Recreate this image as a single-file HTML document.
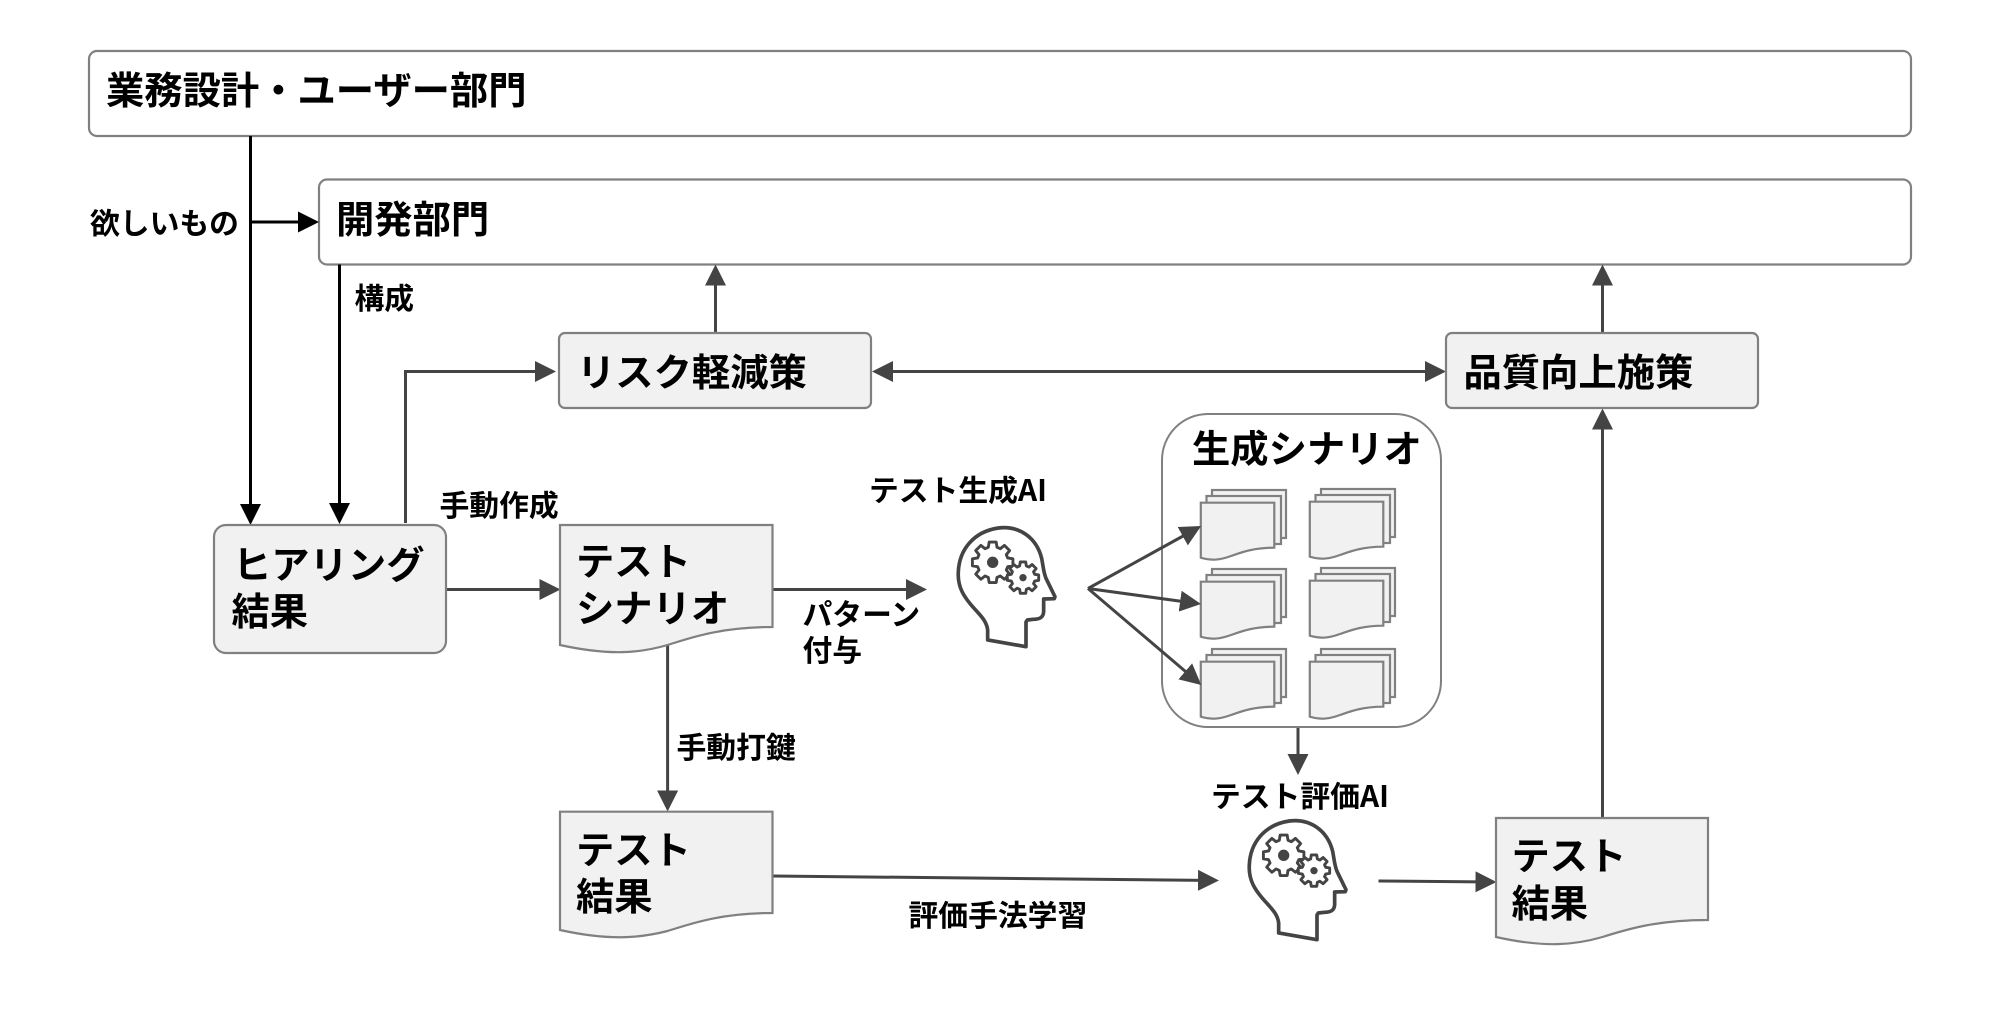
<!DOCTYPE html>
<html lang="ja"><head><meta charset="utf-8"><title>diagram</title>
<style>
html,body{margin:0;padding:0;background:#fff}
svg{display:block}
text{font-family:"Noto Sans CJK JP","Liberation Sans",sans-serif;font-weight:700;fill:#000}
.b{font-size:38.3px}
.s{font-size:29.8px}
.box{fill:#fff;stroke:#808080;stroke-width:2.2}
.g{fill:#f1f1f1;stroke:#808080;stroke-width:2.2}
.l{fill:none;stroke:#444;stroke-width:3}
.k{fill:none;stroke:#000;stroke-width:3}
.h{fill:none;stroke:#444;stroke-width:11;stroke-linejoin:round}
.gear{fill:#fff;stroke:#444;stroke-linejoin:round}
</style></head><body>
<svg width="1996" height="1018" viewBox="0 0 1996 1018" xmlns="http://www.w3.org/2000/svg">
<defs>
<marker id="a" markerUnits="userSpaceOnUse" markerWidth="21" markerHeight="21" viewBox="0 0 21 21" refX="18" refY="10.5" orient="auto-start-reverse"><path d="M0 0L21 10.5L0 21Z" fill="#444"/></marker>
<marker id="ak" markerUnits="userSpaceOnUse" markerWidth="21" markerHeight="21" viewBox="0 0 21 21" refX="18" refY="10.5" orient="auto"><path d="M0 0L21 10.5L0 21Z" fill="#000"/></marker>
<path id="gearp" d="M73 -21L98 -17L98 17L73 21L66 37L82 57L57 82L37 66L21 73L17 98L-17 98L-21 73L-37 66L-57 82L-82 57L-66 37L-73 21L-98 17L-98 -17L-73 -21L-66 -37L-82 -57L-57 -82L-37 -66L-21 -73L-17 -98L17 -98L21 -73L37 -66L57 -82L82 -57L66 -37Z"/>
<g id="head">
<path class="h" d="M143 330L143 300C140 275 125 260 105 238C70 200 52 170 55 125C58 60 100 5 175 -6C240 -14 290 25 305 85C310 110 310 125 318 145L345 200L343 206L311 207L311 245C310 262 300 268 280 268L262 270L258 276L258 350Z"/>
<use href="#gearp" class="gear" stroke-width="14" transform="translate(158 97) scale(.62)"/>
<circle cx="158" cy="97" r="17" fill="#444"/>
<use href="#gearp" class="gear" stroke-width="18" transform="translate(249 143) scale(.48)"/>
<circle cx="249" cy="143" r="11" fill="#444"/>
</g>
<g id="stack">
<rect class="g" x="1212" y="490" width="74" height="48"/>
<rect class="g" x="1206.5" y="496" width="74.5" height="48"/>
<path class="g" d="M1200.8 502.7H1274.3V547.7C1252 547.7 1240 553 1231 556C1220 560 1212 561 1200.8 557.7Z"/>
</g>
</defs>

<rect class="box" x="89" y="51" width="1822" height="85" rx="8"/>
<rect class="box" x="319" y="179.5" width="1592" height="85" rx="8"/>

<path class="k" d="M250.5 136V522" marker-end="url(#ak)"/>
<path class="k" d="M339.5 264.5V521" marker-end="url(#ak)"/>
<path class="k" d="M252 222H316" marker-end="url(#ak)"/>

<path class="l" d="M405.500 523V371.500H553" marker-end="url(#a)"/>
<path class="l" d="M715.500 333V267.500" marker-end="url(#a)"/>
<path class="l" d="M875 371.500H1443" marker-start="url(#a)" marker-end="url(#a)"/>
<path class="l" d="M1602.500 333V267.500" marker-end="url(#a)"/>
<path class="l" d="M1602.500 818V411.500" marker-end="url(#a)"/>
<path class="l" d="M447 589.500H557.500" marker-end="url(#a)"/>
<path class="l" d="M772.500 589.500H924" marker-end="url(#a)"/>
<path class="l" d="M667.600 645V808.500" marker-end="url(#a)"/>
<path class="l" d="M772.500 876L1216 880.500" marker-end="url(#a)"/>
<path class="l" d="M1378.500 881L1493.500 882" marker-end="url(#a)"/>
<path class="l" d="M1298 727V772" marker-end="url(#a)"/>

<rect class="g" x="559" y="333" width="312" height="75" rx="6"/>
<rect class="g" x="1446" y="333" width="312" height="75" rx="6"/>
<rect class="g" x="214" y="525" width="232" height="128" rx="12"/>

<path class="g" d="M560 525H772.500V627C720 627 690 638 667.600 645C640 653 610 656 560 645Z"/>
<path class="g" d="M560 811.700H772.500V913C720 913 690 924 667.600 931C640 938 610 941 560 930Z"/>
<path class="g" d="M1496 818H1708V920C1655 920 1625 930 1602.500 937C1575 945 1545 948 1496 937Z"/>

<rect x="1162" y="414" width="279" height="313" rx="46" fill="#fff" stroke="#808080" stroke-width="2"/>

<use href="#stack"/>
<use href="#stack" x="109" y="-1"/>
<use href="#stack" y="79"/>
<use href="#stack" x="109" y="78"/>
<use href="#stack" y="159"/>
<use href="#stack" x="109" y="159"/>

<path class="l" d="M1088 588.500L1198.500 527.500" marker-end="url(#a)"/>
<path class="l" d="M1088 588.500L1198 603.600" marker-end="url(#a)"/>
<path class="l" d="M1088 588.500L1199 683" marker-end="url(#a)"/>

<use href="#head" transform="translate(940 530) scale(.3333)"/>
<use href="#head" transform="translate(1231 823) scale(.3333)"/>

<text class="b" x="106" y="104">業務設計・ユーザー部門</text>
<text class="b" x="336" y="233">開発部門</text>
<text class="b" x="577" y="386">リスク軽減策</text>
<text class="b" x="1463.500" y="386">品質向上施策</text>
<text class="b" x="233" y="578.500">ヒアリング</text>
<text class="b" x="231.500" y="625">結果</text>
<text class="b" x="576" y="575">テスト</text>
<text class="b" x="576" y="622">シナリオ</text>
<text class="b" x="576" y="863.500">テスト</text>
<text class="b" x="576" y="910">結果</text>
<text class="b" x="1511.500" y="869.500">テスト</text>
<text class="b" x="1511.500" y="917">結果</text>
<text class="b" x="1192" y="462.500">生成シナリオ</text>

<text class="s" x="90" y="234">欲しいもの</text>
<text class="s" x="354.500" y="309">構成</text>
<text class="s" x="439.500" y="516">手動作成</text>
<text class="s" x="869" y="501">テスト生成AI</text>
<text class="s" x="802.500" y="625">パターン</text>
<text class="s" x="802.500" y="661">付与</text>
<text class="s" x="676.500" y="758">手動打鍵</text>
<text class="s" x="1211" y="807">テスト評価AI</text>
<text class="s" x="908.500" y="926">評価手法学習</text>
</svg>
</body></html>
